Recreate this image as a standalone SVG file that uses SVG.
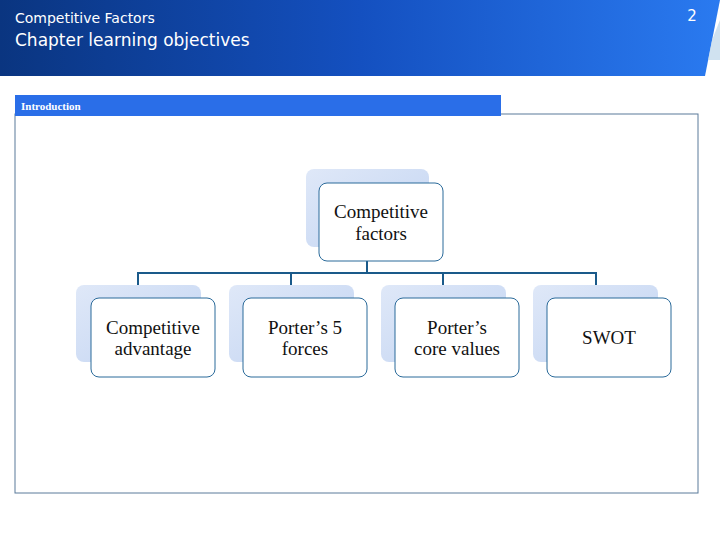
<svg xmlns="http://www.w3.org/2000/svg" width="720" height="540" viewBox="0 0 720 540">
<defs>
<linearGradient id="hdr" x1="0" y1="0" x2="1" y2="0"><stop offset="0" stop-color="#0a3580"/><stop offset="0.5" stop-color="#1450c0"/><stop offset="1" stop-color="#2a7af0"/></linearGradient>
<linearGradient id="sh" x1="0" y1="0" x2="1" y2="1"><stop offset="0" stop-color="#dfe8f8"/><stop offset="1" stop-color="#c2d4f2"/></linearGradient>
<style>
.sh{fill:url(#sh)}
.fr{fill:#fff;stroke:#2a6a9a;stroke-width:1}
.t{font-family:"Liberation Serif",serif;font-size:19px;fill:#111;text-anchor:middle}
.c{stroke:#1a5a8a;stroke-width:2;fill:none}
</style>
</defs>
<rect width="720" height="540" fill="#fff"/>
<polygon points="0,0 720,0 705,76 0,76" fill="url(#hdr)"/>
<polygon points="712,40 720,20 720,60 708,60" fill="#bcd6ea" opacity="0.7"/>
<text x="15" y="23" font-family="DejaVu Sans, sans-serif" font-size="14" fill="#fff">Competitive Factors</text>
<text x="15" y="46" font-family="DejaVu Sans, sans-serif" font-size="17" fill="#fff">Chapter learning objectives</text>
<text x="692" y="21" font-family="DejaVu Sans, sans-serif" font-size="15" fill="#fff" text-anchor="middle">2</text>
<rect x="15" y="114" width="683" height="379" fill="#fff" stroke="#5a7a9a"/>
<rect x="15" y="95" width="486" height="21" fill="#2a6ee8"/>
<text x="21" y="110" font-family="Liberation Serif, serif" font-size="11" font-weight="bold" fill="#fff">Introduction</text>
<g id="connectors">
<path class="c" d="M367,261V273M138,273H596M138,272V286M291,272V286M443,272V286M596,272V286"/>
</g>
<g id="n0"><rect class="sh" x="306" y="169" width="123" height="78" rx="8"/><rect class="fr" x="319" y="183" width="124" height="78" rx="8"/><text class="t" x="381" y="218">Competitive</text><text class="t" x="381" y="240">factors</text></g>
<g id="n1"><rect class="sh" x="76" y="285" width="125" height="77" rx="8"/><rect class="fr" x="91" y="298" width="124" height="79" rx="8"/><text class="t" x="153" y="334">Competitive</text><text class="t" x="153" y="355">advantage</text></g>
<g id="n2"><rect class="sh" x="229" y="285" width="125" height="77" rx="8"/><rect class="fr" x="243" y="298" width="124" height="79" rx="8"/><text class="t" x="305" y="334">Porter’s 5</text><text class="t" x="305" y="355">forces</text></g>
<g id="n3"><rect class="sh" x="381" y="285" width="125" height="77" rx="8"/><rect class="fr" x="395" y="298" width="124" height="79" rx="8"/><text class="t" x="457" y="334">Porter’s</text><text class="t" x="457" y="355">core values</text></g>
<g id="n4"><rect class="sh" x="533" y="285" width="125" height="77" rx="8"/><rect class="fr" x="547" y="298" width="124" height="79" rx="8"/><text class="t" x="609" y="344">SWOT</text></g>
</svg>
